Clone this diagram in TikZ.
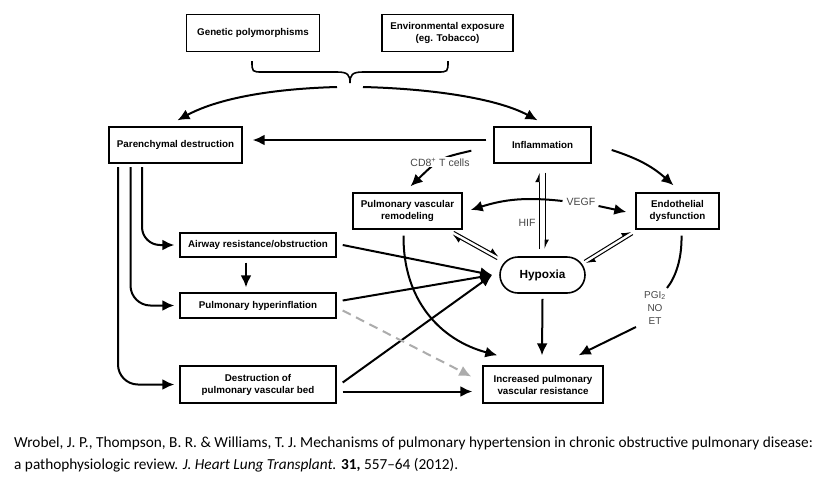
\documentclass[tikz,border=0pt]{standalone}
\usepackage{fontspec}
\setmainfont{Liberation Sans}
\newfontfamily\capfont{Carlito}
\usetikzlibrary{arrows.meta,calc}
\begin{document}
\begin{tikzpicture}[x=1pt,y=-1pt,
  box/.style={draw, line width=1.4pt, font=\fontsize{9.8}{12}\selectfont\bfseries, align=center, inner sep=0pt},
  arr/.style={line width=2pt, -{Latex[length=12pt,width=11pt]}},
  harp/.style={line width=1pt, -{Latex[harpoon,length=8pt,width=8pt]}},
  lab/.style={font=\fontsize{10.5}{12}\selectfont, text=black!72, align=center, inner sep=1pt},
]
\useasboundingbox[fill=white] (0,0) rectangle (830,483);

% boxes
\node[box, minimum width=133pt, minimum height=37pt] (gen) at (253,33) {Genetic polymorphisms};
\node[box, minimum width=131pt, minimum height=37pt] (env) at (447.5,33) {Environmental exposure\\(eg. Tobacco)};
\node[box, minimum width=133pt, minimum height=36pt] (par) at (175.5,145) {Parenchymal destruction};
\node[box, minimum width=97pt, minimum height=36pt] (inf) at (542.5,145) {Inflammation};
\node[box, minimum width=109pt, minimum height=36pt] (pvr) at (407.5,211) {Pulmonary vascular\\remodeling};
\node[box, minimum width=83pt, minimum height=36pt] (endo) at (677.5,211) {Endothelial\\dysfunction};
\node[box, minimum width=85pt, minimum height=36pt, rounded corners=18pt, line width=1.6pt, font=\fontsize{11.8}{14}\selectfont\bfseries] (hyp) at (542.5,275) {Hypoxia};
\node[box, minimum width=156pt, minimum height=24pt] (air) at (258,245) {Airway resistance/obstruction};
\node[box, minimum width=156pt, minimum height=25pt] (hin) at (258,305.5) {Pulmonary hyperinflation};
\node[box, minimum width=156pt, minimum height=37pt] (dest) at (258,384.5) {Destruction of\\pulmonary vascular bed};
\node[box, minimum width=120pt, minimum height=37pt] (inc) at (543,384.5) {Increased pulmonary\\vascular resistance};

% brace
\coordinate (brtip) at (350,83);
\draw[line width=1.6pt] (252,61) .. controls (252,72) .. (263,72) -- (337,72) .. controls (348,72) and (350,75) .. (brtip)
  .. controls (350,75) and (352,72) .. (363,72) -- (437,72) .. controls (448,72) .. (448,61);

% from brace
\draw[arr] ($(brtip)+(-13,4)$) .. controls (265,89) and (215,100) .. ($(par.north)+(2,-6)$);
\draw[arr] ($(brtip)+(13,4)$) .. controls (440,89) and (500,100) .. ($(inf.north)+(-5,-6)$);

% Inflammation -> Parenchymal
\draw[arr] ($(inf.west)+(-7,-5)$) -- ($(par.east)+(10,-5)$);

% CD8+ T cells
\draw[arr] ($(inf.south west)+(-22,-13)$) .. controls (440,158) .. ($(pvr.north)+(3,-6)$);
\node[lab, fill=white] (cd8) at (440,162) {CD8\textsuperscript{+} T cells};

% Inflammation -> Endothelial
\draw[arr] ($(inf.east)+(20,5)$) to[bend left=12] ($(endo.north)+(-4,-7)$);

% VEGF
\node[lab] (vegf) at (581,202) {VEGF};
\draw[arr] ($(vegf.west)+(-3,-1)$) to[bend right=12] ($(pvr.east)+(8,-1)$);
\draw[arr] ($(vegf.east)+(2,4)$) -- ($(endo.west)+(-9,1)$);

% HIF vertical pair
\node[lab] (hif) at (527,223) {HIF};
\draw[harp] ($(hyp.north)+(-3.5,-7)$) -- ($(inf.south)+(-3.5,9)$);
\draw[harp] ($(inf.south)+(2.5,9)$) -- ($(hyp.north)+(2.5,-7)$);

% pvr <-> hypoxia pair
\coordinate (p1) at (453,233); \coordinate (h1) at (498,258);
\draw[harp] ($(p1)+(0.9,-1.6)$) -- ($(h1)+(0.9,-1.6)$);
\draw[harp] ($(h1)+(-0.9,1.6)$) -- ($(p1)+(-0.9,1.6)$);
% endo <-> hypoxia pair
\coordinate (e1) at (632,233); \coordinate (h2) at (585,262);
\draw[harp] ($(e1)+(0.95,1.55)$) -- ($(h2)+(0.95,1.55)$);
\draw[harp] ($(h2)+(-0.95,-1.55)$) -- ($(e1)+(-0.95,-1.55)$);

% parenchymal branches
\draw[arr, rounded corners=18pt] (142,167) |- ($(air.west)+(-5,0)$);
\draw[arr, rounded corners=20pt] (130.5,167) |- ($(hin.west)+(-5,0)$);
\draw[arr, rounded corners=20pt] (118,167) |- ($(dest.west)+(-5,0)$);

% airway -> hyperinflation
\draw[arr] ($(air.south)+(-12,5)$) -- ($(hin.north)+(-12,-5)$);

% to hypoxia
\draw[arr] ($(air.east)+(6,0)$) -- ($(hyp.west)+(-7,0)$);
\draw[arr] ($(hin.east)+(6,-5)$) -- ($(hyp.west)+(-7,0)$);
\draw[arr] ($(dest.east)+(6,-2)$) -- ($(hyp.west)+(-7,0)$);

% dashed gray
\draw[line width=2pt, gray!65, dash pattern=on 9pt off 6pt, -{Latex[length=12pt,width=11pt]}] ($(hin.east)+(6,5)$) -- ($(inc.west)+(-11,-8)$);

% dest -> inc
\draw[arr] ($(dest.east)+(6,7)$) -- ($(inc.west)+(-10,7)$);

% pvr curve -> inc
\draw[arr] ($(pvr.south)+(-4,6)$) .. controls (403,300) and (440,340) .. ($(inc.north west)+(15,-10)$);

% hypoxia -> inc
\draw[arr] ($(hyp.south)+(0,5)$) -- ($(inc.north)+(-1,-10)$);

% endothelial -> inc via PGI2
\node[lab, align=center, font=\fontsize{10}{13}\selectfont] (pgi) at (655,308) {PGI\textsubscript{2}\\NO\\ET};
\draw[line width=2pt] ($(endo.south)+(4,6)$) .. controls (682,260) and (675,278) .. (667,288);
\draw[arr] (636,327) .. controls (612,338) .. ($(inc.north east)+(-25,-10)$);

% caption
\node[anchor=base west, inner sep=0pt, font=\capfont\fontsize{15.3}{18}\selectfont] (cap1) at (14,447)
  {Wrobel, J. P., Thompson, B. R. \& Williams, T. J. Mechanisms of pulmonary hypertension in chronic obstructive pulmonary disease:};
\node[anchor=base west, inner sep=0pt, font=\capfont\fontsize{15.3}{18}\selectfont] (cap2) at (14,469)
  {a pathophysiologic review. \textit{J. Heart Lung Transplant.} \textbf{31,} 557–64 (2012).};
\end{tikzpicture}
\end{document}
